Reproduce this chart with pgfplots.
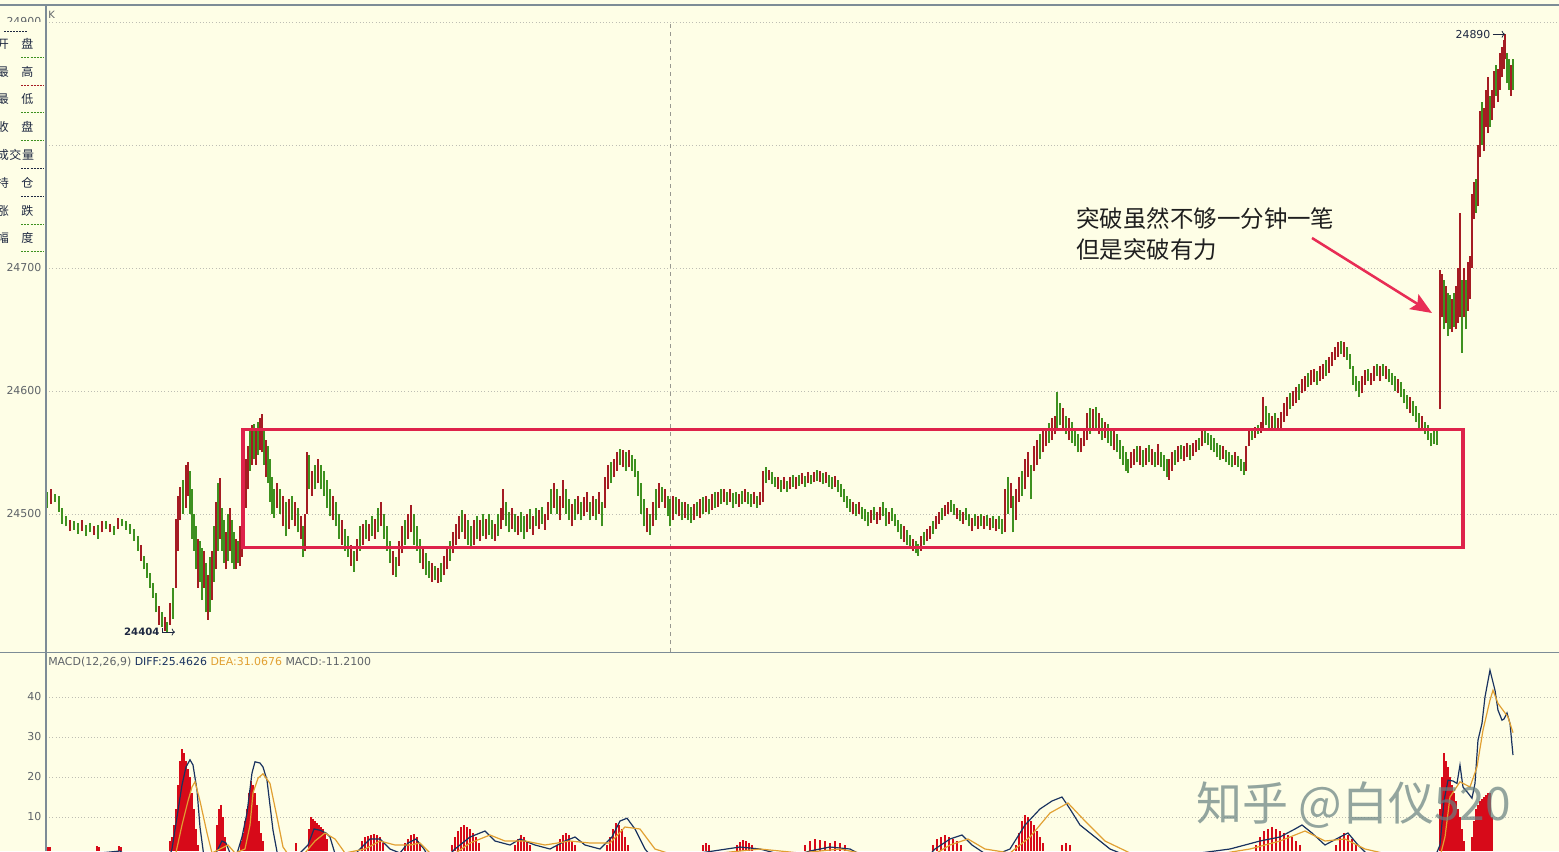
\documentclass[border=0pt]{standalone}
\usepackage{pgfplots}
\pgfplotsset{compat=1.18}
\usepackage{pgfplotstable}
\usepackage{fontspec}
\setmainfont{DejaVu Sans}
\newfontfamily\cjk{Noto Sans CJK SC}
\usetikzlibrary{arrows.meta}

\definecolor{bg}{RGB}{254,254,230}
\definecolor{gridc}{RGB}{190,190,180}
\definecolor{upc}{RGB}{165,28,35}
\definecolor{dnc}{RGB}{62,145,32}
\definecolor{boxc}{RGB}{222,35,75}
\definecolor{arrc}{RGB}{232,45,85}
\definecolor{tickc}{RGB}{95,100,105}
\definecolor{framec}{RGB}{125,140,150}
\definecolor{diffc}{RGB}{25,50,95}
\definecolor{deac}{RGB}{225,160,50}
\definecolor{histc}{RGB}{215,10,25}
\definecolor{labc}{RGB}{30,40,65}

% price bars: x = bar position, lo/hi = low/high, c = 1 up (red), 0 down (green)
\pgfplotstableread{
x lo hi c
47 24505 24518 0
51 24508 24520 1
55 24510 24516 0
59 24502 24515 0
62 24492 24505 0
66 24490 24498 0
70 24486 24495 1
74 24487 24494 0
78 24484 24493 0
82 24486 24495 1
86 24482 24491 0
90 24485 24493 0
94 24483 24490 1
98 24480 24491 0
102 24485 24494 1
106 24488 24494 0
110 24485 24492 1
114 24483 24490 0
118 24488 24497 1
122 24490 24496 0
126 24487 24494 0
130 24484 24492 0
134 24478 24488 0
138 24470 24482 0
141 24462 24475 1
144 24455 24466 0
147 24448 24460 0
150 24440 24452 0
153 24432 24444 0
156 24420 24436 0
159 24410 24425 1
162 24408 24420 0
165 24405 24416 1
167 24404 24412 0
170 24410 24428 1
173 24415 24440 0
176 24440 24496 1
178 24470 24515 1
180 24495 24522 1
183 24500 24528 0
186 24505 24540 1
188 24515 24542 1
190 24500 24535 0
192 24480 24520 0
194 24470 24500 0
196 24455 24490 0
198 24440 24480 1
200 24445 24478 0
202 24430 24472 0
204 24440 24470 1
206 24420 24460 0
208 24414 24450 1
210 24420 24465 0
212 24430 24470 1
214 24445 24490 0
216 24455 24510 1
218 24470 24525 0
220 24480 24529 1
222 24470 24505 0
224 24460 24495 0
226 24455 24485 1
228 24462 24500 0
230 24470 24505 1
232 24460 24495 0
234 24455 24485 0
236 24455 24480 1
238 24460 24478 0
240 24458 24490 1
242 24465 24510 1
244 24485 24530 1
246 24505 24545 1
248 24520 24555 1
250 24535 24568 0
252 24540 24572 1
254 24545 24573 0
256 24540 24570 1
258 24548 24575 0
260 24552 24578 1
262 24550 24581 1
264 24540 24568 0
266 24530 24560 1
268 24525 24555 0
270 24510 24545 0
272 24500 24530 0
274 24497 24520 0
277 24505 24525 1
280 24500 24520 0
283 24490 24515 1
286 24482 24510 0
289 24488 24512 1
292 24495 24515 0
295 24490 24510 1
298 24485 24505 0
301 24480 24498 1
303 24465 24490 0
305 24470 24500 1
307 24500 24550 1
309 24520 24548 0
312 24515 24535 1
315 24520 24540 0
318 24525 24545 1
321 24520 24540 0
324 24515 24535 0
327 24505 24528 0
330 24498 24520 0
333 24495 24515 1
336 24490 24510 0
339 24480 24500 0
342 24475 24495 1
345 24470 24488 0
348 24465 24482 0
351 24458 24475 1
354 24453 24470 0
357 24462 24480 1
360 24470 24490 0
363 24475 24492 1
366 24480 24495 0
369 24478 24492 1
372 24482 24498 0
375 24480 24496 1
378 24485 24505 0
381 24490 24510 1
384 24480 24500 0
387 24470 24490 0
390 24460 24478 0
393 24450 24470 1
396 24449 24465 0
399 24458 24478 1
402 24468 24490 1
405 24475 24495 0
408 24480 24500 1
411 24485 24507 1
414 24475 24500 0
417 24470 24490 0
420 24460 24480 0
423 24455 24472 1
426 24450 24468 0
429 24448 24462 0
432 24445 24460 1
435 24446 24458 0
438 24444 24456 1
441 24445 24460 0
444 24450 24466 1
447 24455 24472 1
450 24462 24478 0
453 24468 24485 1
456 24475 24492 1
459 24480 24498 1
462 24485 24503 0
465 24480 24500 1
468 24475 24495 0
471 24472 24490 0
474 24475 24495 1
477 24480 24498 0
480 24478 24495 1
483 24482 24500 0
486 24480 24496 1
489 24483 24500 0
492 24480 24495 0
495 24478 24492 1
498 24482 24500 0
501 24488 24505 1
503 24495 24520 1
506 24490 24510 0
509 24485 24502 0
512 24488 24505 1
515 24485 24500 0
518 24483 24498 1
521 24485 24502 0
524 24480 24498 0
527 24485 24500 1
530 24488 24504 0
533 24483 24498 1
536 24490 24505 0
539 24488 24503 1
542 24492 24506 0
545 24487 24500 1
548 24495 24510 1
551 24500 24520 0
554 24505 24525 1
557 24500 24520 0
560 24495 24515 1
563 24505 24528 1
566 24500 24520 0
569 24495 24512 0
572 24490 24508 1
575 24495 24512 0
578 24500 24515 1
581 24495 24510 0
584 24498 24514 1
587 24502 24518 1
590 24495 24510 0
593 24498 24515 1
596 24495 24512 0
599 24500 24518 1
602 24490 24510 0
605 24505 24530 1
608 24520 24540 1
611 24525 24542 0
614 24530 24545 1
617 24535 24550 1
620 24540 24553 0
623 24538 24552 1
626 24535 24550 0
629 24538 24552 1
632 24535 24548 0
635 24530 24545 0
638 24515 24535 0
641 24500 24525 0
644 24490 24512 0
647 24485 24505 1
650 24483 24500 0
653 24490 24510 1
656 24495 24520 0
659 24505 24525 1
662 24510 24522 0
665 24505 24520 1
668 24498 24515 0
670 24490 24512 0
673 24495 24515 1
676 24500 24514 0
679 24498 24512 1
682 24495 24510 0
685 24497 24510 1
688 24495 24508 0
691 24493 24506 0
694 24495 24508 1
697 24498 24510 0
700 24497 24512 1
703 24500 24514 0
706 24502 24515 1
709 24500 24512 0
712 24503 24516 1
715 24505 24518 0
718 24506 24518 1
721 24508 24520 0
724 24510 24520 1
727 24507 24518 0
730 24510 24520 1
733 24505 24517 0
736 24508 24518 0
739 24506 24516 1
742 24508 24519 0
745 24510 24520 1
748 24508 24518 0
751 24506 24516 0
754 24508 24518 1
757 24505 24515 0
760 24507 24518 1
763 24510 24535 1
766 24525 24538 0
769 24528 24536 1
772 24524 24534 0
775 24522 24530 0
778 24520 24530 1
781 24518 24528 0
784 24520 24530 1
787 24518 24527 0
790 24520 24530 1
793 24522 24532 0
796 24520 24530 1
799 24523 24532 0
802 24524 24533 1
805 24522 24531 0
808 24525 24534 1
811 24524 24532 0
814 24526 24534 1
817 24527 24536 0
820 24526 24535 1
823 24524 24533 0
826 24525 24534 1
829 24522 24532 0
832 24520 24530 0
835 24522 24531 1
838 24518 24528 0
841 24514 24524 0
844 24510 24520 0
847 24505 24515 0
850 24502 24512 0
853 24500 24510 1
856 24498 24508 0
859 24500 24510 1
862 24496 24506 0
865 24494 24504 0
868 24490 24502 0
871 24493 24503 1
874 24495 24506 0
877 24492 24502 1
880 24495 24506 1
883 24498 24510 0
886 24490 24505 0
889 24492 24502 1
892 24494 24505 0
895 24490 24500 0
898 24485 24495 0
901 24480 24492 0
904 24477 24490 1
907 24475 24487 0
910 24472 24483 0
913 24470 24480 1
916 24468 24478 0
918 24466 24476 0
921 24470 24482 1
924 24475 24485 0
927 24478 24488 1
930 24480 24490 1
933 24484 24494 0
936 24488 24498 1
939 24492 24502 1
942 24495 24505 0
945 24498 24507 1
948 24500 24510 1
951 24502 24511 0
954 24499 24508 0
957 24496 24505 1
960 24494 24503 0
963 24492 24502 1
966 24495 24505 0
969 24490 24500 0
972 24486 24497 1
975 24490 24500 0
978 24488 24498 1
981 24490 24500 0
984 24488 24498 1
987 24490 24499 0
990 24487 24497 1
993 24489 24498 0
996 24486 24496 1
999 24488 24498 0
1002 24484 24496 0
1005 24485 24520 1
1008 24500 24530 0
1011 24505 24525 1
1013 24485 24515 0
1016 24495 24520 1
1019 24510 24530 1
1022 24515 24535 0
1025 24520 24545 1
1028 24530 24550 1
1031 24512 24540 0
1034 24535 24555 1
1037 24540 24560 1
1040 24545 24565 0
1043 24550 24568 1
1046 24555 24570 1
1049 24558 24574 0
1052 24560 24578 1
1055 24565 24580 1
1057 24570 24599 0
1060 24572 24590 0
1063 24568 24586 1
1066 24565 24580 0
1069 24560 24578 1
1072 24558 24575 0
1075 24555 24570 0
1078 24550 24565 0
1081 24550 24562 1
1084 24555 24570 1
1087 24560 24582 1
1090 24565 24586 0
1093 24568 24585 1
1096 24570 24587 0
1099 24565 24582 1
1102 24560 24578 0
1105 24562 24575 1
1108 24558 24573 0
1111 24555 24570 0
1114 24552 24568 1
1117 24550 24565 0
1120 24545 24560 0
1123 24540 24555 0
1126 24535 24550 0
1128 24533 24545 0
1131 24537 24550 1
1134 24540 24553 1
1137 24542 24555 0
1140 24540 24555 1
1143 24538 24552 0
1146 24540 24554 1
1149 24542 24556 0
1152 24540 24553 1
1155 24538 24550 0
1158 24540 24557 1
1161 24538 24550 0
1164 24535 24548 0
1167 24530 24545 0
1169 24528 24545 1
1172 24535 24550 1
1175 24540 24552 0
1178 24542 24555 1
1181 24545 24556 0
1184 24543 24555 1
1187 24546 24558 1
1190 24544 24556 0
1193 24547 24558 1
1196 24550 24560 1
1199 24552 24562 0
1202 24555 24568 1
1205 24558 24568 0
1208 24556 24566 0
1211 24552 24564 0
1214 24550 24562 0
1217 24546 24558 0
1220 24544 24556 0
1223 24545 24555 1
1226 24542 24552 0
1229 24540 24550 0
1232 24538 24548 0
1235 24540 24550 1
1238 24538 24547 0
1241 24535 24545 0
1244 24532 24542 0
1246 24535 24555 1
1249 24555 24570 1
1252 24560 24570 0
1255 24562 24571 1
1258 24565 24572 0
1261 24566 24575 1
1263 24570 24595 1
1266 24572 24588 0
1269 24570 24582 0
1272 24568 24580 1
1275 24570 24582 0
1278 24568 24578 1
1281 24570 24583 1
1284 24575 24590 1
1287 24580 24595 1
1290 24585 24598 0
1293 24588 24600 1
1296 24590 24603 1
1299 24593 24606 0
1302 24598 24610 1
1305 24600 24612 1
1308 24603 24615 0
1311 24605 24617 1
1314 24607 24618 1
1317 24605 24616 0
1320 24608 24620 1
1323 24610 24622 1
1326 24612 24625 0
1329 24615 24628 1
1332 24620 24632 1
1335 24625 24636 1
1338 24628 24640 1
1341 24630 24641 0
1344 24628 24640 1
1347 24625 24636 0
1350 24618 24630 0
1353 24605 24620 0
1356 24600 24612 0
1359 24595 24608 0
1362 24598 24612 1
1365 24605 24617 1
1368 24608 24618 0
1371 24605 24615 1
1374 24608 24620 1
1377 24612 24622 0
1380 24608 24620 1
1383 24612 24622 0
1386 24610 24620 1
1389 24607 24618 0
1392 24605 24615 0
1395 24600 24612 0
1398 24598 24610 1
1401 24595 24607 0
1404 24590 24602 0
1407 24585 24597 0
1410 24582 24595 1
1413 24580 24592 0
1416 24575 24588 0
1419 24570 24582 0
1422 24568 24580 1
1425 24565 24575 0
1428 24560 24572 0
1431 24555 24566 0
1434 24557 24568 0
1437 24556 24570 0
1440 24585 24698 1
1442 24660 24695 1
1444 24650 24690 0
1446 24655 24685 1
1448 24645 24680 0
1450 24650 24678 0
1452 24648 24675 1
1454 24652 24680 0
1456 24650 24685 1
1458 24655 24700 1
1460 24660 24745 1
1462 24631 24690 0
1464 24660 24700 1
1466 24650 24690 0
1468 24665 24705 1
1470 24675 24710 1
1472 24700 24760 1
1474 24740 24770 1
1476 24745 24772 0
1478 24750 24800 1
1480 24790 24828 1
1482 24800 24835 0
1484 24795 24830 1
1486 24815 24845 1
1488 24810 24855 1
1490 24815 24840 0
1492 24820 24845 1
1494 24830 24860 1
1496 24840 24865 0
1498 24835 24862 1
1500 24845 24875 1
1502 24855 24880 1
1504 24862 24885 1
1505 24870 24890 1
1507 24850 24875 0
1509 24845 24870 0
1511 24840 24865 1
1513 24845 24870 0
}\candles

\pgfplotstableread{
x h
48 2.6
50 2.4
97 2.8
99 2.4
119 2.8
121 2.5
170 4
172 5
174 8
176 12
178 18
180 24
182 27
184 26
186 24
188 22
190 20
192 16
194 12
196 7
198 3
217 8
219 12
221 13
223 10
225 5
241 4
243 6
245 9
247 12
249 16
251 19
253 18
255 16
257 13
259 9
261 6
263 4
296 3.5
309 7
311 10
313 9.5
315 9
317 8.5
319 8
321 7.5
323 7
325 6
327 4.5
362 4
365 5
368 5.3
371 5.5
374 5.8
377 5.5
380 5
383 3.5
405 3.5
408 4.5
411 5.5
414 5.8
417 5
420 3.5
452 3
455 5
458 6.5
461 7.5
464 8
467 7.5
470 7
473 6
476 5
479 3.5
515 3
518 4.5
521 5.5
524 5
527 4
530 3
557 3
560 4.5
563 5.5
566 6
569 5.5
572 4
575 3
607 3
610 5
613 7
616 8.5
619 8
622 7
625 5
628 3
703 3
706 3.5
709 3
737 3
740 3.8
743 4.2
746 4
749 3.5
752 3
805 3
810 4
815 4.5
820 4.2
825 4
830 3.5
835 4
840 3.5
845 3
933 3
937 4.5
941 5
945 5.5
949 5
953 4.5
957 4
961 3
1016 3
1019 6
1022 9
1025 10.5
1028 10
1031 9
1034 8
1037 6.5
1040 5
1043 3.5
1062 3
1066 3.5
1070 3
1256 3
1260 5
1264 6.5
1268 7
1272 7.5
1276 7
1280 6.5
1284 6
1288 5.5
1292 5
1296 4
1300 3
1336 3
1340 5
1344 6
1348 5.5
1352 4.5
1356 3
1440 12
1442 20
1444 26
1446 24
1448 22.5
1450 20
1452 18
1454 16
1456 14
1458 12
1460 10
1462 7
1464 4
1472 5
1474 9
1476 12
1478 13
1480 14
1482 14.5
1484 15
1486 15.5
1488 16
1490 16
1492 10
}\hist

\pgfplotstableread{
x v
46 0
100 1
120 1.5
140 -2
165 -3
172 2
177 10
182 18
186 22.5
190 24.3
193 23
197 16.7
200 7.5
204 0
210 -2
216 1
222 4
226 3.5
230 1
236 0
242 5
247 11
252 21
255 23.8
260 23.5
263 22.5
267 19.2
273 6.7
278 0
290 -1
300 1
308 3
314 7
320 6.7
326 6
330 5
336 0
345 -2
360 2
370 4.5
380 4.5
390 2
400 1
408 3.5
416 4.5
424 2
435 -3
455 2
470 5
485 6.5
495 4
510 3
520 4.5
535 3
550 2
565 4
575 5
585 3
600 2
612 5
620 9
627 9.7
635 7
645 2
655 -1
700 1
740 2.5
760 2
790 0
810 1.5
830 2.5
850 2
880 -2
920 -2
935 2
950 4.5
962 5.5
972 3
990 0
1010 2
1025 8
1040 12
1052 14
1062 15
1070 12
1080 8
1095 5
1110 2
1130 0
1160 -1
1200 1
1230 2
1260 4
1280 5
1295 7
1302 8
1312 6
1325 3
1340 5
1348 6
1358 3
1370 0
1400 -2
1430 -3
1440 3
1444 14
1448 19.2
1453 19
1457 18.4
1460 23
1463 17.5
1468 16
1472 14.7
1475 18.4
1478 29.2
1482 33.4
1485 40
1490 46.7
1495 41.7
1498 36.7
1502 34.2
1504 34.5
1507 36
1510 33.4
1513 25.5
}\diff

\pgfplotstableread{
x v
46 0
120 1
150 -1
175 0
182 8
188 14
192 17.5
195 18.8
200 14
207 6
212 1
220 2
228 3
235 1
245 2
250 8
253 16
258 19.7
263 20.8
270 18.4
277 10
283 2.5
290 0
305 1
315 4
325 6
335 4.5
345 1
365 2
380 4
395 3
410 3
420 3.5
430 1
450 0
470 3.5
490 5.5
505 4
525 4
545 3
570 4
590 3.5
610 3.5
625 7.5
640 7
655 2
680 0
720 1
760 2
800 1
840 2
880 0
930 0
950 3
968 4.5
985 2
1010 1
1030 5
1050 11
1068 13.5
1085 9
1105 4
1130 1
1200 0
1250 2
1280 4
1305 6.5
1325 4
1345 4.5
1365 2
1400 0
1440 0
1445 5
1450 15
1460 18.8
1470 17.5
1477 22.5
1483 31.7
1490 39.2
1493 41.7
1498 38.4
1503 36.7
1508 35
1513 31.1
}\dea

\pgfplotsset{
  panel/.style={
    scale only axis, width=1134.75pt, anchor=south west,
    xmin=46, xmax=1559, xtick=\empty,
    axis line style={draw=none}, major tick length=0pt,
    scaled y ticks=false,
    ymajorgrids, grid style={dotted, gridc, line width=0.6pt},
    yticklabel style={font=\fontsize{8.2}{9}\selectfont, text=tickc},
    /pgf/number format/assume math mode=true,
    /pgf/number format/1000 sep={},
  },
  bars/.style={quiver={u=0, v=\thisrow{hi}-\thisrow{lo}}, line width=1.6pt, -},
}

\begin{document}
\begin{tikzpicture}
\useasboundingbox (0,0) rectangle (1169.25pt,638.25pt);
\fill[bg] (0,0) rectangle (1169.25pt,638.25pt);

% price panel
\begin{axis}[panel, at={(34.5pt,149.25pt)}, height=485.25pt,
  ymin=24387.8, ymax=24913.8, ytick={24500,24600,24700,24800,24900}]
\draw[gridc!80!black, dashed, line width=0.6pt] (axis cs:670,24387.8) -- (axis cs:670,24900);
\addplot[dnc, bars, restrict expr to domain={\thisrow{c}}{-0.5:0.5}] table[x=x, y=lo] {\candles};
\addplot[upc, bars, restrict expr to domain={\thisrow{c}}{0.5:1.5}] table[x=x, y=lo] {\candles};
\draw[boxc, line width=2.3pt] (axis cs:243,24569) rectangle (axis cs:1463,24472.4);
\node[anchor=east, inner sep=1pt, text=labc, font=\fontsize{8.2}{9}\selectfont] at (axis cs:1492,24890) {24890};
\draw[labc, line width=0.6pt, -{To[length=2.5pt]}] (axis cs:1493,24890) -- (axis cs:1505,24890);
\node[anchor=east, inner sep=1pt, text=labc, font=\bfseries\fontsize{7.6}{9}\selectfont] at (axis cs:161,24404) {24404};
\draw[labc, line width=0.6pt, -{To[length=2.5pt]}] (axis cs:162,24407) -- (axis cs:162,24404) -- (axis cs:175,24404);
\end{axis}

% MACD panel
\begin{axis}[panel, at={(34.5pt,0pt)}, height=148.5pt,
  ymin=1.5, ymax=51, ytick={10,20,30,40}]
\addplot[ycomb, histc, line width=1.3pt, no markers] table[x=x, y=h] {\hist};
\addplot[diffc, line width=0.9pt, no markers] table[x=x, y=v] {\diff};
\addplot[deac, line width=0.9pt, no markers] table[x=x, y=v] {\dea};
\end{axis}

% frame lines
\draw[framec, line width=1.1pt] (0,634.5pt) -- (1169.25pt,634.5pt);
\draw[framec, line width=1.3pt] (0,148.9pt) -- (1169.25pt,148.9pt);
\draw[framec, line width=1.3pt] (34.5pt,0) -- (34.5pt,634.5pt);
\node[anchor=west, inner sep=0pt, text=tickc, font=\fontsize{7.5}{9}\selectfont] at (36pt,627pt) {K};

% info box on the left
\fill[bg] (0,445.5pt) rectangle (33.8pt,621.6pt);
\begin{scope}
\clip (0,0) rectangle (1169.25pt,638.25pt);
\draw[labc, line width=0.6pt, dash pattern=on 1.5pt off 0.8pt] (3pt,615pt) -- (21pt,615pt);
\foreach \ya/\la/\lb/\col in {
  44/开/盘/dnc, 72/最/高/upc, 99/最/低/dnc, 127/收/盘/dnc,
  183/持/仓/labc, 211/涨/跌/dnc, 238/幅/度/dnc}{
  \node[text=labc, font=\cjk\fontsize{9}{9}\selectfont, inner sep=0pt] at (2.2pt,{(851-\ya)*0.75pt}) {\la};
  \node[text=labc, font=\cjk\fontsize{9}{9}\selectfont, inner sep=0pt] at (20.6pt,{(851-\ya)*0.75pt}) {\lb};
  \draw[\col, line width=0.6pt, dash pattern=on 1.5pt off 0.8pt] (16pt,{(851-\ya-13)*0.75pt}) -- (33pt,{(851-\ya-13)*0.75pt});
}
\node[text=labc, font=\cjk\fontsize{9}{9}\selectfont, inner sep=0pt] at (2.2pt,522pt) {成};
\node[text=labc, font=\cjk\fontsize{9}{9}\selectfont, inner sep=0pt] at (11.5pt,522pt) {交};
\node[text=labc, font=\cjk\fontsize{9}{9}\selectfont, inner sep=0pt] at (21pt,522pt) {量};
\draw[labc, line width=0.6pt, dash pattern=on 1.5pt off 0.8pt] (16pt,512.25pt) -- (33pt,512.25pt);
\end{scope}

% MACD header
\node[anchor=west, inner sep=0pt, font=\fontsize{8.2}{9}\selectfont] at (36pt,141.75pt)
  {\textcolor{tickc}{MACD(12,26,9)} \textcolor{diffc}{DIFF:25.4626} \textcolor{deac}{DEA:31.0676} \textcolor{tickc}{MACD:-11.2100}};

% annotation
\node[anchor=west, inner sep=0pt, text=black!88, font=\cjk\fontsize{17.6}{20}\selectfont] at (807pt,474pt) {突破虽然不够一分钟一笔};
\node[anchor=west, inner sep=0pt, text=black!88, font=\cjk\fontsize{17.6}{20}\selectfont] at (807pt,450.75pt) {但是突破有力};
\draw[arrc, line width=1.9pt, -{Stealth[length=16pt, width=13pt, inset=3pt]}] (984pt,459.75pt) -- (1074pt,403.5pt);

% watermark
\node[anchor=west, inner sep=0pt, text=gray!80!teal, text opacity=0.7, font=\cjk\fontsize{34.5}{36}\selectfont] at (897pt,34.5pt) {知乎 @白仪520};
\end{tikzpicture}
\end{document}
